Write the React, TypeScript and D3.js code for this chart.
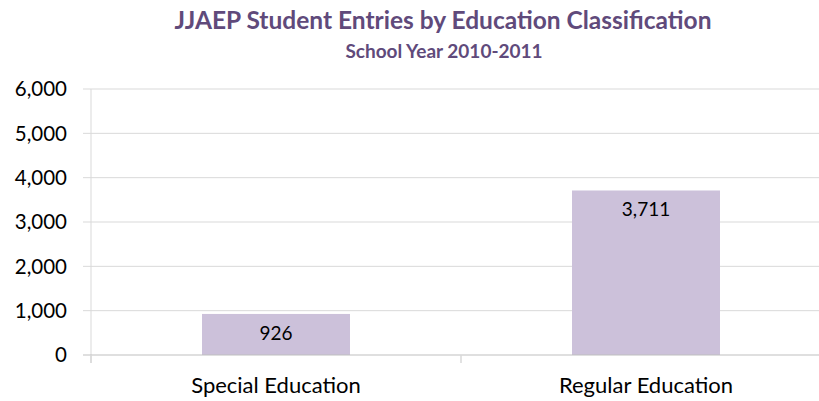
import React from "react";
import * as d3 from "d3";

const categories: string[] = ["Special Education", "Regular Education"];
const values: number[] = [926, 3711];
const yTicks: number[] = [0, 1000, 2000, 3000, 4000, 5000, 6000];
const titleText = "JJAEP Student Entries by Education Classification";
const subtitleText = "School Year 2010-2011";

const W = 819;
const H = 401;
const FONT = "Lato, 'Open Sans', sans-serif";

export default function App() {
  const x = d3
    .scaleBand<string>()
    .domain(categories)
    .range([91, 831])
    .paddingInner(0.6)
    .paddingOuter(0.3);
  const y = d3.scaleLinear().domain([0, 6000]).range([355, 89]);
  const fmt = d3.format(",");
  const step = x.step();
  const boundaries = d3.range(categories.length + 1).map((i) => 91 + i * step);

  return (
    <div style={{ position: "absolute", left: 0, top: 0, width: W, height: H, overflow: "hidden", background: "#fff" }}>
      <svg width={W} height={H} style={{ display: "block" }}>
        <text x={443} y={29} textAnchor="middle" fontFamily={FONT} fontWeight="bold" fontSize={24.5} fill="#604A7B">
          {titleText}
        </text>
        <text x={444} y={57.5} textAnchor="middle" fontFamily={FONT} fontWeight="bold" fontSize={19} fill="#604A7B">
          {subtitleText}
        </text>
        {yTicks.map((t) => (
          <g key={t}>
            {t > 0 && (
              <line x1={83} x2={W} y1={y(t)} y2={y(t)} stroke="#D9D9D9" strokeWidth={1} />
            )}
            <text x={67} y={y(t)} dy="0.36em" textAnchor="end" fontFamily={FONT} fontSize={20.5} fill="#000">
              {fmt(t)}
            </text>
          </g>
        ))}
        {categories.map((c, i) => (
          <rect key={c} x={x(c)} y={y(values[i])} width={x.bandwidth()} height={y(0) - y(values[i])} fill="#CCC1DA" />
        ))}
        <line x1={91} x2={91} y1={y(6000)} y2={y(0) + 8} stroke="#D9D9D9" strokeWidth={1} />
        <line x1={83} x2={W} y1={y(0)} y2={y(0)} stroke="#BFBFBF" strokeWidth={1} />
        {boundaries.map((b, i) => (
          <line key={i} x1={b} x2={b} y1={y(0)} y2={y(0) + 8} stroke="#D9D9D9" strokeWidth={1.5} />
        ))}
        {categories.map((c, i) => (
          <text key={c} x={(x(c) as number) + x.bandwidth() / 2} y={y(values[i]) + 26} textAnchor="middle" fontFamily={FONT} fontSize={19} fill="#000">
            {fmt(values[i])}
          </text>
        ))}
        {categories.map((c) => (
          <text key={c} x={(x(c) as number) + x.bandwidth() / 2} y={393} textAnchor="middle" fontFamily={FONT} fontSize={22} fill="#000">
            {c}
          </text>
        ))}
      </svg>
    </div>
  );
}
